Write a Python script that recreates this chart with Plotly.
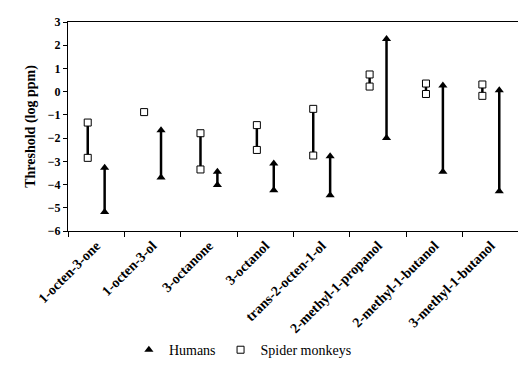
import plotly.graph_objects as go

categories = ["1-octen-3-one", "1-octen-3-ol", "3-octanone", "3-octanol",
              "trans-2-octen-1-ol", "2-methyl-1-propanol", "2-methyl-1-butanol",
              "3-methyl-1-butanol"]
monkey_high = [-1.33, -0.88, -1.79, -1.44, -0.74, 0.74, 0.35, 0.31]
monkey_low = [-2.85, None, -3.35, -2.51, -2.75, 0.22, -0.10, -0.18]
human_high = [-3.28, -1.66, -3.45, -3.09, -2.78, 2.27, 0.27, 0.06]
human_low = [-5.18, -3.70, -4.02, -4.25, -4.46, -2.00, -3.45, -4.29]

FONT = "Liberation Serif"
mo, ho = -0.15, 0.15

def seg_xy(high, low, off):
    xs, ys = [], []
    for i, (h, l) in enumerate(zip(high, low)):
        if l is None:
            continue
        xs += [i + off, i + off, None]
        ys += [h, l, None]
    return xs, ys

fig = go.Figure()
mx, my = seg_xy(monkey_high, monkey_low, mo)
hx, hy = seg_xy(human_high, human_low, ho)
fig.add_trace(go.Scatter(x=mx, y=my, mode="lines", line=dict(color="black", width=2.5),
                         showlegend=False, hoverinfo="skip"))
fig.add_trace(go.Scatter(x=hx, y=hy, mode="lines", line=dict(color="black", width=2.5),
                         showlegend=False, hoverinfo="skip"))

hpx, hpy = [], []
for i, (h, l) in enumerate(zip(human_high, human_low)):
    hpx += [i + ho, i + ho]
    hpy += [h, l]
mpx, mpy = [], []
for i, (h, l) in enumerate(zip(monkey_high, monkey_low)):
    mpx.append(i + mo); mpy.append(h)
    if l is not None:
        mpx.append(i + mo); mpy.append(l)

fig.add_trace(go.Scatter(x=hpx, y=hpy, mode="markers", name="Humans",
                         marker=dict(symbol="triangle-up", size=8, color="black")))
fig.add_trace(go.Scatter(x=mpx, y=mpy, mode="markers", name="Spider monkeys",
                         marker=dict(symbol="square", size=7, color="white",
                                     line=dict(color="black", width=1))))

n = len(categories)
fig.update_layout(
    width=526, height=370,
    margin=dict(l=60, r=15, t=14, b=142),
    plot_bgcolor="white", paper_bgcolor="white",
    font=dict(family=FONT, color="black", size=12),
    showlegend=True,
    legend=dict(orientation="h", x=0.135, xanchor="left", y=-0.57, yanchor="middle",
                font=dict(family=FONT, size=14, color="black"), itemwidth=30,
                tracegroupgap=0, bgcolor="rgba(0,0,0,0)"),
    xaxis=dict(range=[-0.5, n - 0.5], tickvals=list(range(n)), ticktext=categories,
               tickangle=-45, ticks="", showline=True, linecolor="black", linewidth=1,
               mirror=True, showgrid=False, zeroline=False, automargin=False,
               tickfont=dict(family=FONT, size=14, weight="bold", color="black"),
               minor=dict(tickvals=[i + 0.5 for i in range(-1, n)], ticks="outside",
                          ticklen=5, tickcolor="black", showgrid=False)),
    yaxis=dict(range=[-6, 3], dtick=1, ticks="outside", ticklen=4, tickcolor="black",
               showline=True, linecolor="black", linewidth=1, mirror=True,
               showgrid=False, zeroline=False, automargin=False,
               title=dict(text="Threshold (log ppm)",
                          font=dict(family=FONT, size=14, weight="bold", color="black"),
                          standoff=8),
               tickfont=dict(family=FONT, size=12, weight="bold", color="black")),
)
fig.write_html("out.html")
